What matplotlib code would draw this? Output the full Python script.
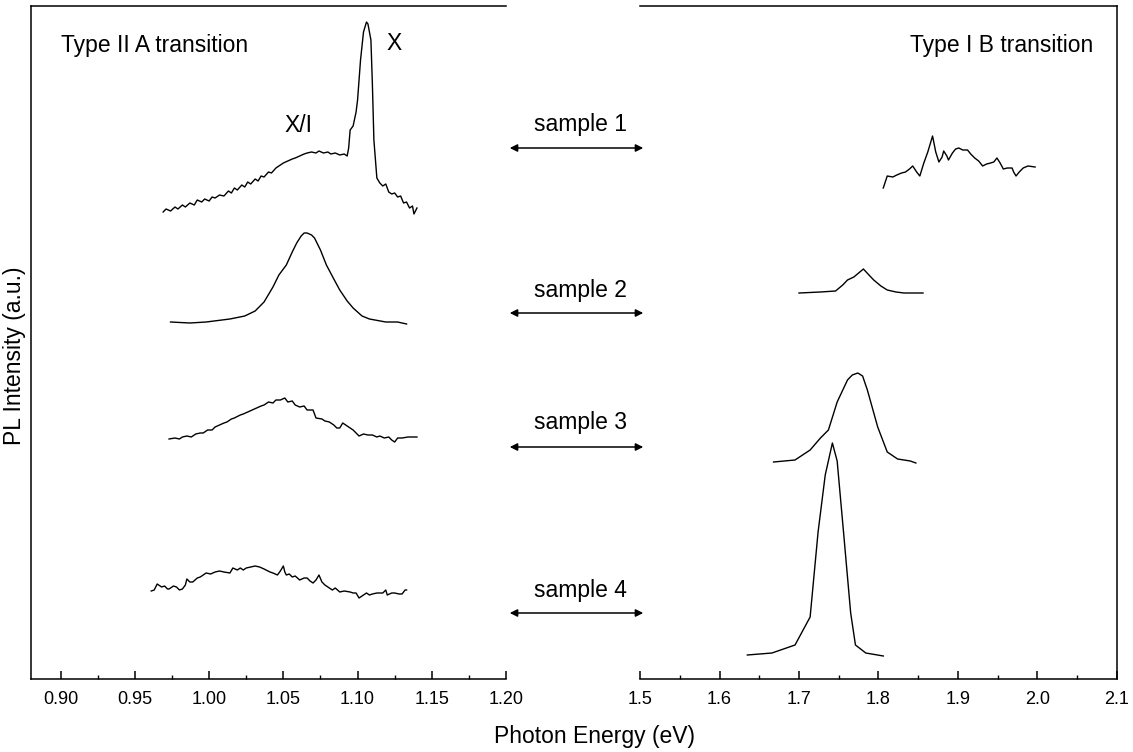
import matplotlib
matplotlib.use("Agg")
import matplotlib.pyplot as plt
from matplotlib.patches import FancyArrowPatch
from matplotlib.ticker import MultipleLocator

plt.rcParams['font.family'] = ['Liberation Sans', 'DejaVu Sans']

# ---- data (photon energy in eV, PL intensity in a.u. incl. vertical offsets) ----
# Type II A transition (left panel)
s1_a_x = [0.969, 0.971, 0.974, 0.977, 0.979, 0.982, 0.984, 0.987, 0.990, 0.992,
          0.995, 0.997, 1.000, 1.002, 1.004, 1.007, 1.010, 1.013, 1.015, 1.017,
          1.019, 1.022, 1.024, 1.026, 1.028, 1.031, 1.033, 1.035, 1.037, 1.040,
          1.042, 1.045, 1.047, 1.050, 1.053, 1.056, 1.058, 1.061, 1.064, 1.066,
          1.069, 1.072, 1.074, 1.077, 1.080, 1.082, 1.085, 1.088, 1.091, 1.093,
          1.094, 1.095, 1.097, 1.099, 1.100, 1.102, 1.104, 1.106, 1.107, 1.109,
          1.110, 1.111, 1.113, 1.115, 1.117, 1.119, 1.121, 1.123, 1.125, 1.127,
          1.129, 1.131, 1.133, 1.135, 1.137, 1.138, 1.140]
s1_a_y = [467, 470, 468, 472, 470, 474, 472, 476, 474, 479,
          477, 480, 478, 482, 481, 484, 483, 488, 486, 491,
          489, 494, 492, 497, 495, 500, 498, 503, 502, 507,
          506, 511, 513, 516, 518, 520, 521, 523, 525, 526,
          527, 526, 528, 526, 527, 525, 526, 524, 525, 523,
          531, 549, 553, 567, 579, 619, 647, 657, 655, 639,
          594, 539, 501, 496, 493, 495, 487, 485, 486, 482,
          483, 476, 477, 471, 473, 465, 471]

s2_a_x = [0.974, 0.987, 0.998, 1.014, 1.024, 1.031, 1.037, 1.043, 1.047, 1.052,
          1.056, 1.059, 1.062, 1.064, 1.066, 1.069, 1.071, 1.075, 1.079, 1.084,
          1.088, 1.093, 1.097, 1.103, 1.108, 1.119, 1.127, 1.133]
s2_a_y = [357, 356, 357, 360, 363, 368, 377, 392, 404, 414,
          427, 436, 443, 446, 446, 444, 441, 429, 414, 400,
          389, 378, 371, 363, 360, 357, 357, 355]

s3_a_x = [0.973, 0.977, 0.980, 0.982, 0.985, 0.988, 0.991, 0.994, 0.996, 0.999,
          1.002, 1.004, 1.007, 1.010, 1.012, 1.015, 1.017, 1.021, 1.023, 1.026,
          1.029, 1.032, 1.035, 1.037, 1.040, 1.043, 1.045, 1.048, 1.051, 1.053,
          1.056, 1.058, 1.061, 1.064, 1.066, 1.070, 1.072, 1.076, 1.078, 1.081,
          1.084, 1.086, 1.088, 1.090, 1.092, 1.095, 1.097, 1.099, 1.101, 1.104,
          1.107, 1.110, 1.113, 1.115, 1.118, 1.121, 1.123, 1.125, 1.127, 1.130,
          1.134, 1.137, 1.140]
s3_a_y = [240, 241, 240, 242, 243, 242, 245, 246, 246, 249,
          249, 252, 254, 256, 257, 260, 261, 264, 265, 267,
          269, 271, 273, 274, 277, 276, 279, 279, 281, 277,
          278, 274, 272, 273, 269, 269, 261, 260, 258, 257,
          254, 251, 251, 256, 254, 251, 249, 246, 243, 245,
          244, 244, 242, 243, 241, 242, 239, 237, 241, 241,
          242, 242, 242]

s4_a_x = [0.961, 0.963, 0.965, 0.968, 0.970, 0.972, 0.973, 0.976, 0.978, 0.980,
          0.982, 0.984, 0.985, 0.987, 0.989, 0.992, 0.994, 0.996, 0.998, 1.001,
          1.004, 1.007, 1.010, 1.014, 1.016, 1.019, 1.021, 1.023, 1.025, 1.028,
          1.031, 1.034, 1.037, 1.041, 1.043, 1.046, 1.048, 1.050, 1.051, 1.052,
          1.054, 1.056, 1.058, 1.061, 1.064, 1.066, 1.068, 1.070, 1.072, 1.074,
          1.076, 1.078, 1.081, 1.083, 1.085, 1.088, 1.091, 1.095, 1.097, 1.099,
          1.101, 1.103, 1.106, 1.108, 1.110, 1.113, 1.117, 1.119, 1.120, 1.123,
          1.125, 1.128, 1.130, 1.132, 1.133]
s4_a_y = [88, 89, 95, 92, 93, 90, 90, 93, 92, 89,
          90, 94, 100, 97, 97, 101, 102, 104, 106, 105,
          107, 108, 107, 106, 111, 109, 111, 109, 111, 112,
          113, 112, 110, 107, 106, 104, 108, 113, 107, 104,
          105, 102, 103, 99, 101, 101, 98, 96, 99, 104,
          97, 94, 91, 89, 91, 87, 88, 87, 86, 86,
          81, 83, 86, 84, 85, 86, 86, 89, 84, 86,
          86, 85, 85, 89, 89]

# Type I B transition (right panel)
s1_b_x = [1.806, 1.811, 1.818, 1.823, 1.829, 1.834, 1.839, 1.843, 1.848, 1.852,
          1.857, 1.862, 1.868, 1.872, 1.876, 1.880, 1.882, 1.886, 1.888, 1.893,
          1.897, 1.901, 1.906, 1.912, 1.916, 1.921, 1.926, 1.931, 1.936, 1.941,
          1.945, 1.949, 1.953, 1.957, 1.962, 1.968, 1.970, 1.973, 1.977, 1.982,
          1.988, 1.997]
s1_b_y = [491, 503, 502, 504, 506, 507, 510, 513, 507, 503,
          516, 527, 543, 527, 517, 522, 528, 523, 519, 526,
          530, 531, 529, 529, 525, 521, 518, 513, 515, 516,
          517, 521, 516, 510, 511, 511, 507, 503, 507, 511,
          513, 512]

s2_b_x = [1.700, 1.727, 1.746, 1.755, 1.761, 1.769, 1.775, 1.781, 1.788, 1.794,
          1.803, 1.811, 1.822, 1.832, 1.856]
s2_b_y = [386, 387, 388, 394, 399, 402, 406, 410, 404, 399,
          393, 389, 387, 386, 386]

s3_b_x = [1.668, 1.695, 1.714, 1.727, 1.737, 1.748, 1.761, 1.767, 1.774, 1.780,
          1.786, 1.799, 1.811, 1.824, 1.840, 1.847]
s3_b_y = [217, 219, 229, 241, 249, 277, 299, 304, 306, 303,
          289, 252, 227, 220, 218, 216]

s4_b_x = [1.635, 1.666, 1.695, 1.714, 1.724, 1.733, 1.742, 1.748, 1.756, 1.765,
          1.771, 1.784, 1.806]
s4_b_y = [24, 26, 34, 62, 147, 204, 236, 218, 147, 66,
          34, 26, 23]

sample_names = ["sample 1", "sample 2", "sample 3", "sample 4"]
left_ticks = [0.90, 0.95, 1.00, 1.05, 1.10, 1.15, 1.20]
right_ticks = [1.5, 1.6, 1.7, 1.8, 1.9, 2.0, 2.1]

# ---- figure ----
W, H = 1133, 752
fig = plt.figure(figsize=(W / 100, H / 100), dpi=100)

def px_box(x0, x1, ytop, ybot):
    return [x0 / W, 1 - ybot / H, (x1 - x0) / W, (ybot - ytop) / H]

ax1 = fig.add_axes(px_box(31, 506, 6, 679))
ax2 = fig.add_axes(px_box(640, 1117, 6, 679))

lw = 1.0
for x, y in [(s1_a_x, s1_a_y), (s2_a_x, s2_a_y), (s3_a_x, s3_a_y), (s4_a_x, s4_a_y)]:
    ax1.plot(x, y, color='black', lw=lw)
for x, y in [(s1_b_x, s1_b_y), (s2_b_x, s2_b_y), (s3_b_x, s3_b_y), (s4_b_x, s4_b_y)]:
    ax2.plot(x, y, color='black', lw=lw)

ax1.set_xlim(0.88, 1.20)
ax2.set_xlim(1.5, 2.1)
for ax in (ax1, ax2):
    ax.set_ylim(0, 673)
    ax.set_yticks([])
    for s in ax.spines.values():
        s.set_linewidth(1.1)
    ax.tick_params(axis='x', direction='in', length=6, width=1.1, labelsize=13, pad=9)
    ax.tick_params(axis='x', which='minor', direction='in', length=3, width=1.0)

ax1.spines['right'].set_visible(False)
ax2.spines['left'].set_visible(False)

ax1.set_xticks(left_ticks)
ax1.set_xticklabels([f"{t:.2f}" for t in left_ticks])
ax1.xaxis.set_minor_locator(MultipleLocator(0.025))
ax2.set_xticks(right_ticks)
ax2.set_xticklabels([f"{t:.1f}" for t in right_ticks])
ax2.xaxis.set_minor_locator(MultipleLocator(0.05))

fs = 16.5
ax1.text(0.063, 0.942, "Type II A transition", transform=ax1.transAxes,
         fontsize=fs, ha='left', va='center')
ax1.text(0.764, 0.945, "X", transform=ax1.transAxes, fontsize=fs, ha='center', va='center')
ax1.text(0.564, 0.823, "X/I", transform=ax1.transAxes, fontsize=fs, ha='center', va='center')
ax2.text(0.950, 0.942, "Type I B transition", transform=ax2.transAxes,
         fontsize=fs, ha='right', va='center')

# sample labels with double arrows in the gap
label_y = [125, 290, 422, 590]
arrow_y = [148, 313, 447, 613]
for name, ly, ay in zip(sample_names, label_y, arrow_y):
    fig.text(580 / W, 1 - ly / H, name, fontsize=fs, ha='center', va='center')
    arr = FancyArrowPatch((507 / W, 1 - ay / H), (646 / W, 1 - ay / H),
                          transform=fig.transFigure, arrowstyle='<|-|>',
                          mutation_scale=11, color='black', lw=1.1)
    fig.add_artist(arr)

fig.text(15 / W, 1 - 356 / H, "PL Intensity (a.u.)", rotation=90,
         fontsize=fs, ha='center', va='center')
fig.text(595 / W, 1 - 737 / H, "Photon Energy (eV)", fontsize=fs,
         ha='center', va='center')

fig.savefig("out.png", dpi=100)
